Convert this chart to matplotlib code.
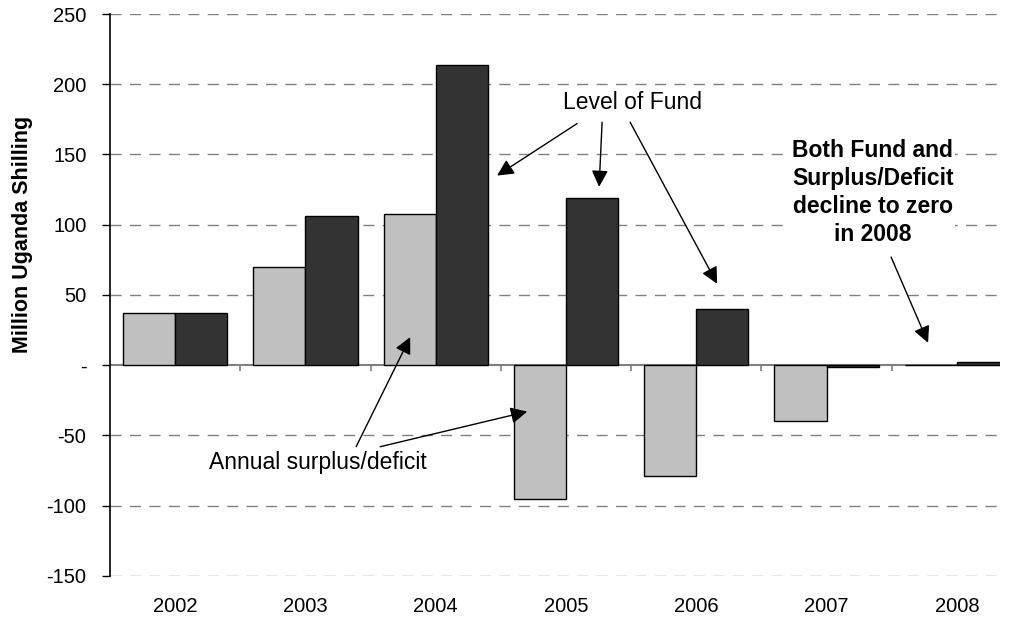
import numpy as np
import matplotlib
matplotlib.use("agg")
import matplotlib.pyplot as plt

plt.rcParams['font.family'] = ['Liberation Sans', 'DejaVu Sans']

years = ['2002', '2003', '2004', '2005', '2006', '2007', '2008']
surplus = [37, 70, 108, -95, -79, -40, 0]
fund = [37, 106, 214, 119, 40, -1, 2]
yticks = [-150, -100, -50, 0, 50, 100, 150, 200, 250]
ytick_labels = ['-150', '-100', '-50', '-', '50', '100', '150', '200', '250']

fig = plt.figure(figsize=(10.11, 6.17), dpi=100)
ax = fig.add_axes([0.1088, 0.0665, 0.8802, 0.9108])

x = np.arange(len(years))
w = 0.4
ax.bar(x - w / 2, surplus, w, color='#c0c0c0', edgecolor='black', linewidth=1, zorder=3)
ax.bar(x + w / 2, fund, w, color='#333333', edgecolor='black', linewidth=1, zorder=3)

ax.set_xlim(-0.5, 6.33)
ax.set_ylim(-150, 250)

# dashed gridlines, solid zero line
for v in yticks:
    if v == 0:
        continue
    ax.axhline(v, color='#808080', lw=1, ls=(0, (8, 6)), zorder=1)
ax.axhline(0, color='#808080', lw=1.5, zorder=2)
ax.vlines(np.arange(0.5, 6.5, 1), -4, 0, color='#808080', lw=1.2, zorder=2)

for s in ['top', 'right', 'bottom']:
    ax.spines[s].set_visible(False)
ax.spines['left'].set_color('black')
ax.spines['left'].set_linewidth(1.2)

ax.set_yticks(yticks)
ax.set_yticklabels(ytick_labels)
ax.tick_params(axis='y', length=6, width=1, pad=11, labelsize=14.5)
ax.set_xticks(x)
ax.set_xticklabels(years)
ax.tick_params(axis='x', length=0, pad=15, labelsize=14.5)

ax.set_ylabel('Million Uganda Shilling', fontsize=15.5, fontweight='bold')
ax.yaxis.set_label_coords(-0.087, 0.607)

arrow = dict(arrowstyle='-|>', color='black', lw=1, mutation_scale=25, shrinkA=0, shrinkB=0)

ax.text(3.507, 187, 'Level of Fund', fontsize=16.5, ha='center', va='center', zorder=5)
ax.annotate('', xy=(2.471, 135), xytext=(3.085, 172), arrowprops=arrow, zorder=5)
ax.annotate('', xy=(3.254, 127), xytext=(3.277, 173), arrowprops=arrow, zorder=5)
ax.annotate('', xy=(4.160, 58), xytext=(3.492, 173), arrowprops=arrow, zorder=5)

ax.text(1.097, -69, 'Annual surplus/deficit', fontsize=16.5, ha='center', va='center', zorder=5)
ax.annotate('', xy=(1.804, 20), xytext=(1.389, -58), arrowprops=arrow, zorder=5)
ax.annotate('', xy=(2.702, -33), xytext=(1.573, -58), arrowprops=arrow, zorder=5)

ax.text(5.355, 123, 'Both Fund and\nSurplus/Deficit\ndecline to zero\nin 2008', fontsize=16.5,
        fontweight='bold', ha='center', va='center', linespacing=1.27, zorder=5,
        bbox=dict(facecolor='white', edgecolor='none', pad=1))
ax.annotate('', xy=(5.779, 16), xytext=(5.495, 77), arrowprops=arrow, zorder=5)

fig.savefig('out.png', dpi=100)
